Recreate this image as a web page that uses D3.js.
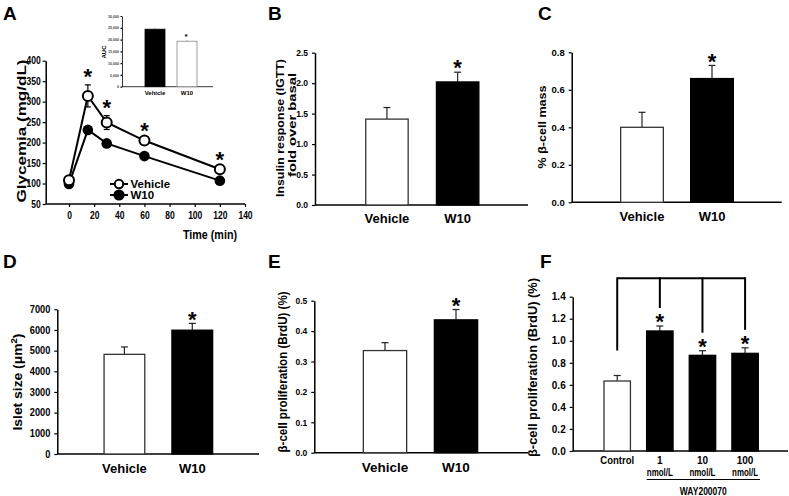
<!DOCTYPE html>
<html>
<head>
<meta charset="utf-8">
<script src="https://cdn.jsdelivr.net/npm/d3@7"></script>
<style>
  body { margin: 0; background: #fff; }
  svg { display: block; }
  text { font-family: "Liberation Sans", Arial, sans-serif; font-weight: bold; }
</style>
</head>
<body>
<svg id="chart" width="789" height="496"></svg>
<script>
// ---- data ----
// A: glucose tolerance test
let glyTime = [0, 15, 30, 60, 120];
let glyVehicle = [108, 314, 249, 205, 135];
let glyVehicleErr = [4, 27, 17, 4, 4];
let glyW10 = [99, 231, 198, 167, 107];
let glyW10Err = [3, 4, 3, 3, 3];
let glyStars = [false, true, true, true, true];
let glyXTicks = [0, 20, 40, 60, 80, 100, 120, 140];
let glyYTicks = [50, 100, 150, 200, 250, 300, 350, 400];

// A inset: area under curve
let aucGroups = ["Vehicle", "W10"];
let aucValues = [24400, 19300];
let aucErr = [400, 300];
let aucTicks = [0, 5000, 10000, 15000, 20000, 25000, 30000];

// B-E: vehicle vs W10
let groups = ["Vehicle", "W10"];
let insulinValues = [1.41, 2.02];
let insulinErr = [0.19, 0.16];
let insulinTicks = [0, 0.5, 1.0, 1.5, 2.0, 2.5];
let massValues = [0.40, 0.66];
let massErr = [0.08, 0.07];
let massTicks = [0, 0.2, 0.4, 0.6, 0.8];
let isletValues = [4820, 5990];
let isletErr = [360, 330];
let isletTicks = [0, 1000, 2000, 3000, 4000, 5000, 6000, 7000];
let prolifValues = [0.336, 0.437];
let prolifErr = [0.026, 0.034];
let prolifTicks = [0, 0.1, 0.2, 0.3, 0.4, 0.5];

// F: dose response
let doses = ["Control", "1", "10", "100"];
let doseUnits = ["", "nmol/L", "nmol/L", "nmol/L"];
let doseValues = [0.635, 1.089, 0.868, 0.886];
let doseErr = [0.05, 0.045, 0.042, 0.05];
let doseTicks = [0, 0.2, 0.4, 0.6, 0.8, 1.0, 1.2, 1.4];

// fills: first group open, others solid
let openFirst = [true, false, false, false];

let svg = d3.select("#chart");
let ink = "#000";

function star(g, cx, cy, fs) {
    g.append("text")
        .attr("x", cx)
        .attr("y", cy + 0.555 * fs)
        .attr("text-anchor", "middle")
        .attr("font-size", fs)
        .text("*");
}

function squeeze(sel, k) {
    sel.each(function() {
        let w = this.getComputedTextLength();
        d3.select(this).attr("textLength", w * k).attr("lengthAdjust", "spacingAndGlyphs");
    });
}

// rotated axis title, cx/cy = visual centre
function vlabel(g, cx, cy, fs, len) {
    let t = g.append("text")
        .attr("transform", "translate(" + (cx + 0.35 * fs) + "," + cy + ") rotate(-90)")
        .attr("text-anchor", "middle")
        .attr("font-size", fs);
    if (len) t.attr("textLength", len).attr("lengthAdjust", "spacingAndGlyphs");
    return t;
}

function panelLetter(txt, x, y) {
    svg.append("text").attr("x", x).attr("y", y).attr("font-size", 19).text(txt);
}

function styleAxis(ax, fs, k) {
    ax.select(".domain").attr("stroke", ink).attr("stroke-width", 1.5);
    ax.selectAll(".tick line").attr("stroke", ink).attr("stroke-width", 1.2);
    ax.selectAll("text")
        .attr("font-size", fs)
        .attr("font-family", "Liberation Sans, Arial, sans-serif")
        .attr("font-weight", "bold")
        .attr("fill", ink);
    if (k) squeeze(ax.selectAll("text"), k);
}

// ---------- panel A ----------
(function() {
    let g = svg.append("g");
    let x = d3.scaleLinear().domain([0, 140]).range([69, 245]);
    let y = d3.scaleLinear().domain([50, 400]).range([204, 60.7]);
    let x0 = 45.7;

    let ya = g.append("g").attr("transform", "translate(" + x0 + ",0)")
        .call(d3.axisLeft(y).tickValues(glyYTicks).tickSize(3).tickPadding(2).tickSizeOuter(0));
    styleAxis(ya, 10, 0.85);

    let xa = g.append("g").attr("transform", "translate(0," + y(50) + ")")
        .call(d3.axisBottom(x).tickValues(glyXTicks).tickSize(3).tickPadding(5).tickSizeOuter(0));
    xa.select(".domain").remove();
    styleAxis(xa, 10, 0.85);
    g.append("line").attr("x1", x0).attr("x2", x(140)).attr("y1", y(50)).attr("y2", y(50))
        .attr("stroke", ink).attr("stroke-width", 1.5);

    vlabel(g, 21, 131, 13, 143).text("Glycemia (mg/dL)");
    g.append("text").attr("x", 210).attr("y", 238.5).attr("text-anchor", "middle")
        .attr("font-size", 13.5).attr("textLength", 54).attr("lengthAdjust", "spacingAndGlyphs")
        .text("Time (min)");

    let line = d3.line().x((d, i) => x(glyTime[i])).y(d => y(d));

    // error bars for both series
    function errs(vals, errv) {
        vals.forEach(function(v, i) {
            let e = errv[i];
            let cx = x(glyTime[i]);
            g.append("line").attr("x1", cx).attr("x2", cx).attr("y1", y(v - e)).attr("y2", y(v + e))
                .attr("stroke", ink).attr("stroke-width", 1.2);
            [v - e, v + e].forEach(function(w) {
                g.append("line").attr("x1", cx - 3).attr("x2", cx + 3).attr("y1", y(w)).attr("y2", y(w))
                    .attr("stroke", ink).attr("stroke-width", 1.2);
            });
        });
    }
    errs(glyW10, glyW10Err);
    errs(glyVehicle, glyVehicleErr);

    g.append("path").datum(glyW10).attr("d", line).attr("fill", "none").attr("stroke", ink).attr("stroke-width", 2);
    g.append("path").datum(glyVehicle).attr("d", line).attr("fill", "none").attr("stroke", ink).attr("stroke-width", 2);

    g.selectAll(".w10pt").data(glyW10).enter().append("circle")
        .attr("cx", (d, i) => x(glyTime[i])).attr("cy", d => y(d)).attr("r", 5.3)
        .attr("fill", ink);
    g.selectAll(".vehpt").data(glyVehicle).enter().append("circle")
        .attr("cx", (d, i) => x(glyTime[i])).attr("cy", d => y(d)).attr("r", 5)
        .attr("fill", "#fff").attr("stroke", ink).attr("stroke-width", 2);

    glyVehicle.forEach(function(v, i) {
        if (glyStars[i]) star(g, x(glyTime[i]), y(v + glyVehicleErr[i]) - 13, 22);
    });

    // legend
    let leg = [{name: "Vehicle", open: true, y: 184}, {name: "W10", open: false, y: 195}];
    leg.forEach(function(d) {
        g.append("line").attr("x1", 110).attr("x2", 128).attr("y1", d.y).attr("y2", d.y)
            .attr("stroke", ink).attr("stroke-width", 2);
        g.append("circle").attr("cx", 119).attr("cy", d.y).attr("r", d.open ? 4.2 : 4.6)
            .attr("fill", d.open ? "#fff" : ink).attr("stroke", ink).attr("stroke-width", 2);
        g.append("text").attr("x", 130.5).attr("y", d.y + 4).attr("font-size", 11.5).text(d.name);
    });

    // inset AUC
    let iy = d3.scaleLinear().domain([0, 30000]).range([86.7, 16]);
    let ix = d3.scaleBand().domain(aucGroups).range([139, 203]).paddingInner(0.375).paddingOuter(0.1875);
    let iya = g.append("g").attr("transform", "translate(122,0)")
        .call(d3.axisLeft(iy).tickValues(aucTicks).tickSize(1.5).tickPadding(1.5).tickSizeOuter(0));
    styleAxis(iya, 3.6);
    iya.select(".domain").attr("stroke-width", 0.8);
    iya.selectAll("text").attr("font-weight", "normal").attr("fill", "#444");
    g.append("line").attr("x1", 122).attr("x2", 213).attr("y1", 86.7).attr("y2", 86.7)
        .attr("stroke", ink).attr("stroke-width", 0.8);
    aucGroups.forEach(function(c, i) {
        let open = i === 1;
        g.append("rect").attr("x", ix(c)).attr("width", ix.bandwidth())
            .attr("y", iy(aucValues[i])).attr("height", iy(0) - iy(aucValues[i]))
            .attr("fill", open ? "#fff" : ink).attr("stroke", open ? "#888" : ink).attr("stroke-width", 0.8);
        let cx = ix(c) + ix.bandwidth() / 2;
        g.append("line").attr("x1", cx).attr("x2", cx).attr("y1", iy(aucValues[i])).attr("y2", iy(aucValues[i] + aucErr[i]))
            .attr("stroke", "#555").attr("stroke-width", 0.8);
        g.append("text").attr("x", cx).attr("y", 95).attr("text-anchor", "middle").attr("font-size", 6).text(c);
    });
    star(g, ix("W10") + ix.bandwidth() / 2 - 1, 35, 8);
    vlabel(g, 104, 52, 6).text("AUC");
})();

// ---------- bar panels ----------
function barPanel(p) {
    let g = svg.append("g");
    let y = d3.scaleLinear().domain([0, p.max]).range([p.yBot, p.yTop]);
    let x = d3.scaleBand().domain(p.cats).range(p.band).paddingInner(p.pi).paddingOuter(p.pi / 2);

    let ya = g.append("g").attr("transform", "translate(" + p.ax + ",0)")
        .call(d3.axisLeft(y).tickValues(p.ticks).tickFormat(d3.format(p.fmt))
            .tickSize(3).tickPadding(4).tickSizeOuter(0));
    styleAxis(ya, p.tickFs, p.tickK);
    g.append("line").attr("x1", p.ax).attr("x2", p.axEnd).attr("y1", p.yBot).attr("y2", p.yBot)
        .attr("stroke", ink).attr("stroke-width", 1.5);

    p.cats.forEach(function(c, i) {
        let v = p.values[i], e = p.errs[i];
        let open = openFirst[i];
        let cx = x(c) + x.bandwidth() / 2;
        // error bar drawn above the bar
        g.append("line").attr("x1", cx).attr("x2", cx).attr("y1", y(v)).attr("y2", y(v + e))
            .attr("stroke", "#222").attr("stroke-width", 1.2);
        g.append("line").attr("x1", cx - 3.5).attr("x2", cx + 3.5).attr("y1", y(v + e)).attr("y2", y(v + e))
            .attr("stroke", "#222").attr("stroke-width", 1.2);
        g.append("rect").attr("x", x(c)).attr("width", x.bandwidth())
            .attr("y", y(v)).attr("height", y(0) - y(v))
            .attr("fill", open ? "#fff" : ink)
            .attr("stroke", open ? "#333" : ink).attr("stroke-width", 1.3);
        if (p.stars[i]) star(g, cx, y(v + e) - 9, 22);
    });
    return {g: g, x: x, y: y};
}

panelLetter("A", 3, 20);
panelLetter("B", 268, 20);
panelLetter("C", 538, 20);
panelLetter("D", 3, 268);
panelLetter("E", 268, 268);
panelLetter("F", 540, 268);

function catLabels(r, cats, yb, fs) {
    cats.forEach(function(c) {
        r.g.append("text").attr("x", r.x(c) + r.x.bandwidth() / 2).attr("y", yb)
            .attr("text-anchor", "middle").attr("font-size", fs).text(c);
    });
}

// B
let rB = barPanel({ax: 315, axEnd: 528, yTop: 52.7, yBot: 205, max: 2.5, ticks: insulinTicks, fmt: ".1f",
    tickFs: 8.5, cats: groups, values: insulinValues, errs: insulinErr, stars: [false, true],
    band: [351.6, 493], pi: 0.4});
catLabels(rB, groups, 222.7, 13);
vlabel(rB.g, 280, 128, 10, 138).text("Insulin response (IGTT)");
vlabel(rB.g, 292, 125, 10, 104).text("fold over basal");

// C
let rC = barPanel({ax: 571.7, axEnd: 781.7, yTop: 52.3, yBot: 202.3, max: 0.8, ticks: massTicks, fmt: ".1f",
    tickFs: 9.5, cats: groups, values: massValues, errs: massErr, stars: [false, true],
    band: [607, 747], pi: 0.39});
catLabels(rC, groups, 221, 13);
vlabel(rC.g, 541.5, 127, 11.5, 83).text("% β-cell mass");

// D
let rD = barPanel({ax: 57.3, axEnd: 259, yTop: 309.3, yBot: 454, max: 7000, ticks: isletTicks, fmt: "d",
    tickFs: 10, tickK: 0.92, cats: groups, values: isletValues, errs: isletErr, stars: [false, true],
    band: [90.5, 226.2], pi: 0.4});
catLabels(rD, groups, 472.7, 13);
let tD = vlabel(rD.g, 17, 382, 13, 97);
tD.append("tspan").text("Islet size (μm");
tD.append("tspan").attr("dy", -5).attr("font-size", 9).text("2");
tD.append("tspan").attr("dy", 5).text(")");

// E
let rE = barPanel({ax: 314.3, axEnd: 528, yTop: 300.7, yBot: 452.7, max: 0.5, ticks: prolifTicks, fmt: ".1f",
    tickFs: 8.5, cats: groups, values: prolifValues, errs: prolifErr, stars: [false, true],
    band: [349.5, 491.5], pi: 0.39});
catLabels(rE, groups, 471.7, 13.5);
vlabel(rE.g, 282.5, 372, 12.5, 161).text("β-cell proliferation (BrdU) (%)");

// F
let rF = barPanel({ax: 572.7, axEnd: 788, yTop: 296.7, yBot: 451, max: 1.4, ticks: doseTicks, fmt: ".1f",
    tickFs: 10, cats: doses, values: doseValues, errs: doseErr, stars: [false, true, true, true],
    band: [595.9, 766.4], pi: 0.38});
vlabel(rF.g, 533, 367.5, 12, 179).text("β-cell proliferation (BrdU) (%)");
doses.forEach(function(c, i) {
    let cx = rF.x(c) + rF.x.bandwidth() / 2;
    let t = rF.g.append("text").attr("x", cx).attr("y", 463.5).attr("text-anchor", "middle")
        .attr("font-size", 10).text(c);
    if (i === 0) squeeze(t, 0.95);
    if (doseUnits[i]) {
        rF.g.append("text").attr("x", cx).attr("y", 475.5).attr("text-anchor", "middle")
            .attr("font-size", 10.5).attr("textLength", 26).attr("lengthAdjust", "spacingAndGlyphs")
            .text(doseUnits[i]);
    }
});
rF.g.append("line").attr("x1", 646.7).attr("x2", 760).attr("y1", 479.5).attr("y2", 479.5)
    .attr("stroke", ink).attr("stroke-width", 1.2);
rF.g.append("text").attr("x", 703.3).attr("y", 494.5).attr("text-anchor", "middle")
    .attr("font-size", 11.5).attr("textLength", 47).attr("lengthAdjust", "spacingAndGlyphs").text("WAY200070");

// comparison bracket from control to each dose
(function() {
    let top = 278.3;
    let cxs = doses.map(c => rF.x(c) + rF.x.bandwidth() / 2);
    let ends = doses.map(function(c, i) {
        let topVal = rF.y(doseValues[i] + doseErr[i]);
        return i === 0 ? topVal - 25 : topVal - 18;
    });
    rF.g.append("line").attr("x1", cxs[0]).attr("x2", cxs[cxs.length - 1]).attr("y1", top).attr("y2", top)
        .attr("stroke", ink).attr("stroke-width", 2);
    cxs.forEach(function(cx, i) {
        rF.g.append("line").attr("x1", cx).attr("x2", cx).attr("y1", top - 1).attr("y2", ends[i])
            .attr("stroke", ink).attr("stroke-width", 2);
    });
})();
</script>
</body>
</html>
